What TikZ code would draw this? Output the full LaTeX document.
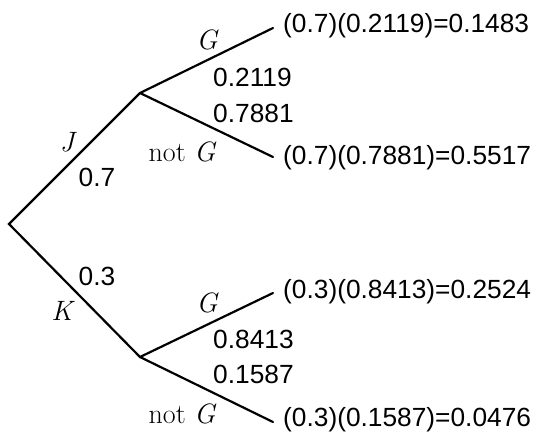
\documentclass[tikz,border=0pt]{standalone}
\usepackage{fontspec}
\newfontfamily\numfont{Liberation Sans}
\begin{document}
\begin{tikzpicture}[x=1pt,y=-1pt,
  branch/.style={line width=2.2pt,line cap=round,line join=miter},
  num/.style={inner sep=0pt,font=\numfont\fontsize{26.3}{30}\selectfont},
  lab/.style={inner sep=0pt,font=\fontsize{28}{32}\selectfont}]
\useasboundingbox (0,0) rectangle (533,434);
\coordinate (root) at (9,224);
\coordinate (J) at (140,93);
\coordinate (K) at (140,357);
\coordinate (JG) at (273,28);
\coordinate (JN) at (273,157);
\coordinate (KG) at (273,293);
\coordinate (KN) at (273,422);
\draw[branch] (JG) -- (J) -- (root) -- (K) -- (KG);
\draw[branch] (J) -- (JN);
\draw[branch] (K) -- (KN);
% results
\node[num,anchor=west] (r1) at (283,26) {(0.7)(0.2119)=0.1483};
\node[num,anchor=west] (r2) at (283,158) {(0.7)(0.7881)=0.5517};
\node[num,anchor=west] (r3) at (283,292) {(0.3)(0.8413)=0.2524};
\node[num,anchor=west] (r4) at (283,420) {(0.3)(0.1587)=0.0476};
% branch probabilities
\node[num,anchor=west] (p1) at (213,77) {0.2119};
\node[num,anchor=west] (p2) at (213,113) {0.7881};
\node[num,anchor=west] (p3) at (213,339) {0.8413};
\node[num,anchor=west] (p4) at (213,374) {0.1587};
\node[num] (pJ) at (97,177) {0.7};
\node[num] (pK) at (97,276) {0.3};
% event labels
\node[lab] (lG1) at (207,40) {\itshape G};
\node[lab] (lN1) at (182,152) {not \itshape G};
\node[lab] (lG2) at (207,303) {\itshape G};
\node[lab] (lN2) at (182,414) {not \itshape G};
\node[lab] (lJ) at (67,142) {\itshape J};
\node[lab] (lK) at (62,311) {\itshape K};
\end{tikzpicture}
\end{document}
